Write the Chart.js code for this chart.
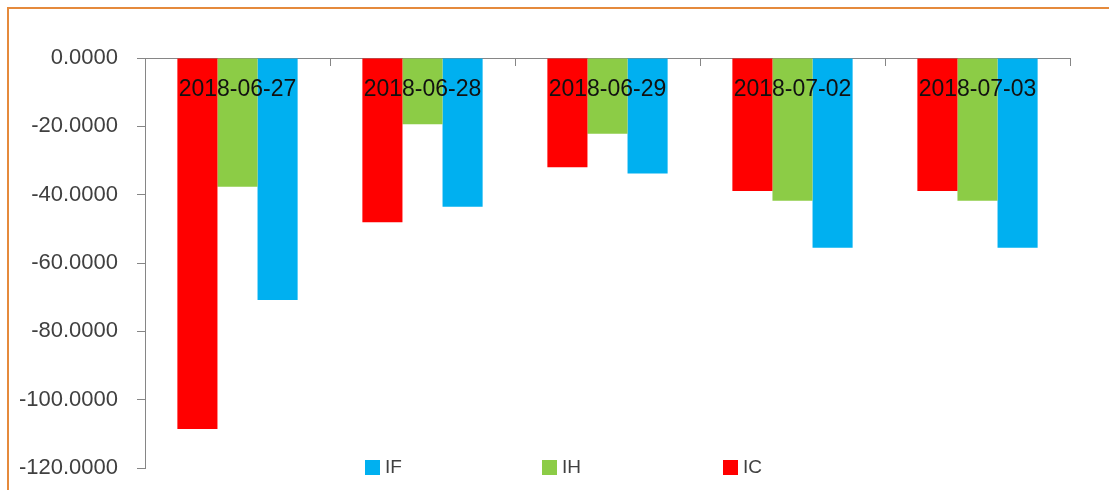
<!DOCTYPE html>
<html>
<head>
<meta charset="utf-8">
<script src="https://cdn.jsdelivr.net/npm/chart.js@4/dist/chart.umd.min.js"></script>
<style>
  html, body { margin: 0; padding: 0; background: #ffffff; }
  #frame {
    position: absolute; left: 7px; top: 7px; width: 1102px; height: 483px;
    border-left: 2px solid #e58a3c; border-top: 2px solid #e58a3c;
    box-sizing: border-box;
  }
  #wrap { position: absolute; left: 0; top: 0; width: 1109px; height: 490px; }
</style>
</head>
<body>
<div id="frame"></div>
<div id="wrap"><canvas id="c" width="1109" height="490"></canvas></div>
<script>
// Trading dates
const categories = ['2018-06-27', '2018-06-28', '2018-06-29', '2018-07-02', '2018-07-03'];
// Series values per date
const icValues = [-108.6, -48.1, -32.0, -38.9, -38.9];
const ihValues = [-37.7, -19.4, -22.2, -41.8, -41.8];
const ifValues = [-70.8, -43.5, -33.8, -55.5, -55.5];
// Value axis ticks
const yTicks = [0, -20, -40, -60, -80, -100, -120];
// Legend order
const legendOrder = ['IF', 'IH', 'IC'];

const colors = { IC: '#ff0000', IH: '#8ccc46', IF: '#00b0f0' };

// Category labels, boundary tick marks and legend drawn onto the canvas
const decorations = {
  id: 'decorations',
  afterDatasetsDraw(chart) {
    const ctx = chart.ctx;
    const xs = chart.scales.x;
    const area = chart.chartArea;
    ctx.save();
    // boundary ticks below the top axis
    ctx.strokeStyle = '#868686';
    ctx.lineWidth = 1;
    const n = categories.length;
    const step = (area.right - area.left) / n;
    for (let i = 1; i <= n; i++) {
      const x = Math.round(area.left + i * step) + 0.5;
      ctx.beginPath();
      ctx.moveTo(x, area.top);
      ctx.lineTo(x, area.top + 8);
      ctx.stroke();
    }
    // category labels
    ctx.fillStyle = '#111111';
    ctx.font = '23px "Liberation Sans", Arial, sans-serif';
    ctx.textAlign = 'center';
    ctx.textBaseline = 'middle';
    categories.forEach((c, i) => {
      ctx.fillText(c, xs.getPixelForValue(i), area.top + 32);
    });
    // legend
    const legendX = [365, 542, 723];
    const ly = 467;
    ctx.font = '19px "Liberation Sans", Arial, sans-serif';
    ctx.textAlign = 'left';
    legendOrder.forEach((name, i) => {
      ctx.fillStyle = colors[name];
      ctx.fillRect(legendX[i], ly - 7, 15, 15);
      ctx.fillStyle = '#404040';
      ctx.fillText(name, legendX[i] + 20, ly + 1);
    });
    ctx.restore();
  }
};

new Chart(document.getElementById('c'), {
  type: 'bar',
  data: {
    labels: categories,
    datasets: [
      { label: 'IC', data: icValues, backgroundColor: colors.IC },
      { label: 'IH', data: ihValues, backgroundColor: colors.IH },
      { label: 'IF', data: ifValues, backgroundColor: colors.IF }
    ]
  },
  options: {
    responsive: false,
    animation: false,
    layout: { padding: { left: 0, right: 39, top: 0, bottom: 22 } },
    datasets: { bar: { barPercentage: 1, categoryPercentage: 0.65 } },
    plugins: { legend: { display: false }, tooltip: { enabled: false } },
    scales: {
      x: {
        position: 'top',
        grid: { display: false },
        border: { display: true, color: '#868686', width: 1 },
        ticks: { display: false },
        afterFit(scale) { scale.height = 58; }
      },
      y: {
        min: -120,
        max: 0,
        afterBuildTicks(scale) { scale.ticks = yTicks.map(v => ({ value: v })); },
        grid: { drawOnChartArea: false, tickLength: 8, color: '#868686' },
        border: { display: true, color: '#868686', width: 1 },
        ticks: {
          padding: 19,
          color: '#404040',
          font: { family: '"Liberation Sans", Arial, sans-serif', size: 22 },
          callback: v => Number(v).toFixed(4)
        },
        afterFit(scale) {
          scale.width = 145;
          scale.paddingTop = 0;
          scale.paddingBottom = 0;
        }
      }
    }
  },
  plugins: [decorations]
});
</script>
</body>
</html>
